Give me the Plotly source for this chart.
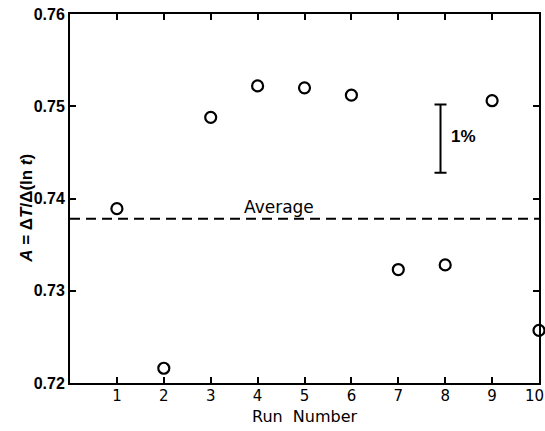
import plotly.graph_objects as go

runs = [1, 2, 3, 4, 5, 6, 7, 8, 9, 10]
A_values = [0.7389, 0.7216, 0.7488, 0.7522, 0.7520, 0.7512, 0.7323, 0.7328, 0.7506, 0.7257]
average = 0.7378
x_ticks = [1, 2, 3, 4, 5, 6, 7, 8, 9, 10]
x_tick_labels = ["1", "2", "3", "4", "5", "6", "7", "8", "9", "10"]
y_ticks = [0.72, 0.73, 0.74, 0.75, 0.76]
y_tick_labels = ["0.72", "0.73", "0.74", "0.75", "0.76"]
bar_x = 7.9
bar_center = 0.7465
bar_half = 0.0037

fig = go.Figure()

fig.add_trace(go.Scatter(
    x=[0, 10], y=[average, average], mode="lines",
    line=dict(color="black", width=2, dash="10px,6px"),
    showlegend=False, hoverinfo="skip"))

fig.add_trace(go.Scatter(
    x=runs, y=A_values, mode="markers",
    marker=dict(symbol="circle-open", size=11, color="black", line=dict(width=2.2)),
    cliponaxis=False, showlegend=False))

fig.add_trace(go.Scatter(
    x=[bar_x], y=[bar_center], mode="markers",
    marker=dict(size=1, color="rgba(0,0,0,0)"),
    error_y=dict(type="constant", value=bar_half, color="black", thickness=2, width=6),
    showlegend=False, hoverinfo="skip"))

fig.add_annotation(x=bar_x, y=bar_center, text="1%", showarrow=False,
                   xanchor="left", xshift=8, yshift=2,
                   font=dict(family="Liberation Sans", size=17, color="black", weight="bold"))
fig.add_annotation(x=4.45, y=average, text="Average", showarrow=False,
                   yanchor="bottom", yshift=0,
                   font=dict(family="DejaVu Sans", size=17, color="black"))
fig.add_annotation(x=0, y=0.472, xref="paper", yref="paper", textangle=-90,
                   xanchor="center", yanchor="middle", xshift=-43,
                   text="<i>A</i> = Δ<i>T</i>/Δ(ln <i>t</i>)", showarrow=False,
                   font=dict(family="Liberation Sans", size=17, color="black", weight="bold"))
fig.add_annotation(x=0.5, y=-0.092, xref="paper", yref="paper", yanchor="middle",
                   text="Run  Number", showarrow=False,
                   font=dict(family="DejaVu Sans", size=16, color="black"))

# last tick label sits at the page edge; anchor it so it stays inside the page
fig.add_annotation(x=x_ticks[-1], y=0, xref="x", yref="paper", yanchor="top",
                   xanchor="right", xshift=6, yshift=-3, text=x_tick_labels[-1],
                   showarrow=False, borderpad=0,
                   font=dict(family="DejaVu Sans", size=15, color="black"))

axis_common = dict(showline=True, linecolor="black", linewidth=2, mirror="ticks",
                   ticks="inside", ticklen=6, tickwidth=1.5, tickcolor="black",
                   showgrid=False, zeroline=False, automargin=False)

x_tick_text = x_tick_labels[:-1] + [""]
fig.update_xaxes(range=[0, 10], tickvals=x_ticks, ticktext=x_tick_text,
                 tickfont=dict(family="DejaVu Sans", size=15, color="black"),
                 ticklabelstandoff=-2, **axis_common)
fig.update_yaxes(range=[0.72, 0.76], tickvals=y_ticks, ticktext=y_tick_labels,
                 tickfont=dict(family="Liberation Sans", size=16, color="black", weight="bold"),
                 **axis_common)

fig.update_layout(width=545, height=431, margin=dict(l=70, r=6, t=14, b=48),
                  plot_bgcolor="white", paper_bgcolor="white")

fig.write_html("out.html")
